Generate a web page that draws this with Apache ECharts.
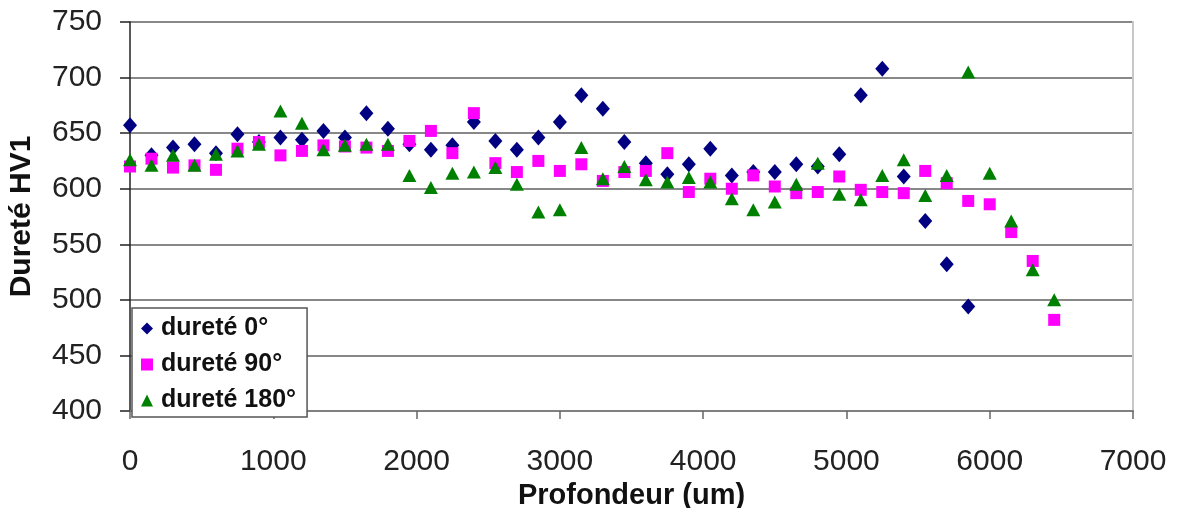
<!DOCTYPE html>
<html>
<head>
<meta charset="utf-8">
<script src="https://cdn.jsdelivr.net/npm/echarts@6/dist/echarts.min.js"></script>
<style>
html,body{margin:0;padding:0;background:#fff;}
#c{width:1179px;height:508px;}
</style>
</head>
<body>
<div id="c"></div>
<script>
var depth = [0,150,300,450,600,750,900,1050,1200,1350,1500,1650,1800,1950,2100,2250,2400,2550,2700,2850,3000,3150,3300,3450,3600,3750,3900,4050,4200,4350,4500,4650,4800,4950,5100,5250,5400,5550,5700,5850,6000,6150,6300,6450];
var durete0 = [657,630,637,640,632,649,642,646,644,652,646,668,654,640,635,639,660,643,635,646,660,684,672,642,623,613,622,636,612,615,615,622,620,631,684,708,611,571,532,494];
var durete90 = [620,627,619,621,617,636,642,630,634,639,638,637,634,643,652,632,668,623,615,625,616,622,607,615,616,632,597,609,600,612,602,596,597,611,599,597,596,616,605,589,586,561,535,482];
var durete180 = [626,621,630,621,631,634,640,670,659,635,639,640,640,612,601,614,615,619,604,579,581,637,609,620,608,606,610,606,591,581,588,604,623,595,590,612,626,594,612,705,614,571,527,500];
var seriesNames = ['dureté 0°','dureté 90°','dureté 180°'];
var xTitle = 'Profondeur (um)';
var yTitle = 'Dureté HV1';

function pairs(vals){ return vals.map(function(v,i){ return [depth[i], v]; }); }

var FONT = '"Liberation Sans", Arial, sans-serif';
var chart = echarts.init(document.getElementById('c'), null, {renderer:'canvas'});
chart.setOption({
  animation:false,
  backgroundColor:'#ffffff',
  textStyle:{fontFamily:FONT},
  grid:{left:130, right:46, top:22, bottom:97, containLabel:false, outerBoundsMode:'none'},
  legend:{
    orient:'vertical', left:132, top:308,
    backgroundColor:'#ffffff', borderColor:'#555', borderWidth:1.5, borderRadius:0,
    padding:[8,11,4,9], itemGap:11, itemWidth:12, itemHeight:12,
    textStyle:{fontFamily:FONT, fontSize:25, fontWeight:'bold', color:'#111', padding:[0,0,0,3]},
    data:[
      {name:seriesNames[0], icon:'diamond'},
      {name:seriesNames[1], icon:'rect'},
      {name:seriesNames[2], icon:'triangle'}
    ]
  },
  xAxis:{
    type:'value', min:0, max:7000, interval:1000,
    name:xTitle, nameLocation:'middle', nameGap:64,
    nameTextStyle:{fontFamily:FONT, fontSize:29, fontWeight:'bold', color:'#111'},
    axisLine:{show:true, onZero:false, lineStyle:{color:'#808080', width:2}},
    axisTick:{show:true, length:8, lineStyle:{color:'#666', width:1.5}},
    axisLabel:{fontFamily:FONT, fontSize:30, color:'#222', margin:36, formatter:function(v){return String(v);}},
    splitLine:{show:false}
  },
  yAxis:[{
    type:'value', min:400, max:750, interval:50,
    name:yTitle, nameLocation:'middle', nameGap:93, nameRotate:90,
    nameTextStyle:{fontFamily:FONT, fontSize:30, fontWeight:'bold', color:'#111'},
    axisLine:{show:true, lineStyle:{color:'#222', width:1.5}},
    axisTick:{show:true, length:10, lineStyle:{color:'#222', width:1.5}},
    axisLabel:{fontFamily:FONT, fontSize:30, color:'#222', margin:28},
    splitLine:{show:true, lineStyle:{color:'#888', width:2}}
  },{
    type:'value', min:400, max:750, interval:50, position:'right',
    axisLine:{show:true, lineStyle:{color:'#c8c8c8', width:2}},
    axisTick:{show:false}, axisLabel:{show:false}, splitLine:{show:false}
  }],
  series:[
    {name:seriesNames[0], type:'scatter', symbol:'diamond', symbolSize:[14,16], itemStyle:{color:'#000080', opacity:1}, data:pairs(durete0)},
    {name:seriesNames[1], type:'scatter', symbol:'rect', symbolSize:12, itemStyle:{color:'#ff00ff', opacity:1}, data:pairs(durete90)},
    {name:seriesNames[2], type:'scatter', symbol:'triangle', symbolSize:[14,13], itemStyle:{color:'#008000', opacity:1}, data:pairs(durete180)}
  ]
});
</script>
</body>
</html>
